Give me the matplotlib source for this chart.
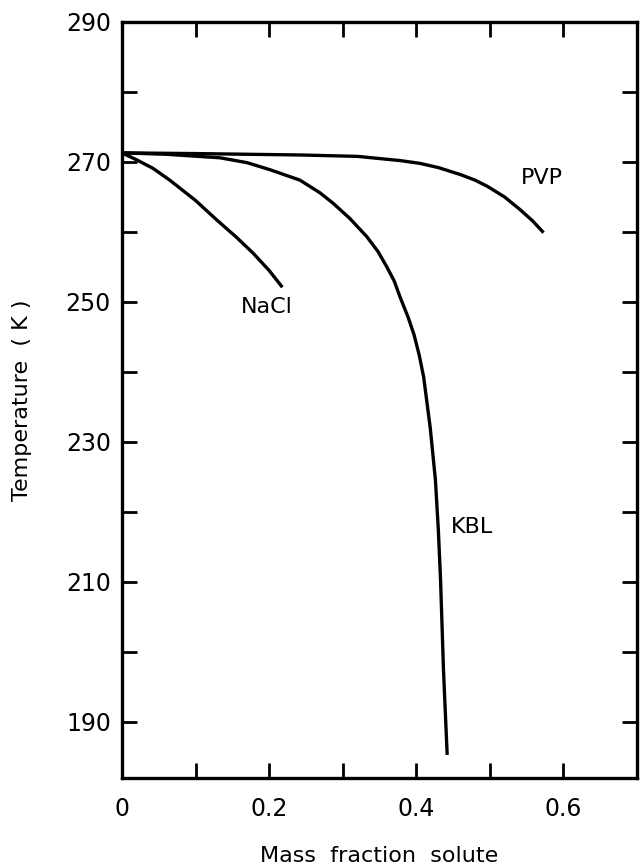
import matplotlib.pyplot as plt

# values
nacl_x = [0.0, 0.02, 0.042, 0.065, 0.10, 0.129, 0.155, 0.178, 0.200, 0.218]
nacl_t = [271.3, 270.3, 269.1, 267.4, 264.5, 261.7, 259.3, 257.0, 254.5, 252.1]

kbl_x = [0.0, 0.06, 0.133, 0.170, 0.201, 0.242, 0.269, 0.287, 0.310, 0.333,
         0.348, 0.360, 0.370, 0.378, 0.389, 0.397, 0.404, 0.410, 0.419, 0.426,
         0.430, 0.433, 0.437, 0.442]
kbl_t = [271.3, 271.1, 270.6, 269.9, 268.9, 267.4, 265.6, 264.1, 261.9, 259.3,
         257.2, 255.0, 253.0, 250.7, 247.8, 245.3, 242.4, 239.3, 232.0, 224.6,
         217.4, 210.3, 197.4, 185.3]

pvp_x = [0.0, 0.10, 0.242, 0.320, 0.378, 0.405, 0.430, 0.460, 0.480, 0.497,
         0.520, 0.541, 0.558, 0.573]
pvp_t = [271.3, 271.2, 271.0, 270.8, 270.2, 269.8, 269.2, 268.2, 267.4, 266.5,
         265.0, 263.2, 261.6, 259.9]

labels = ['NaCl', 'KBL', 'PVP']
label_pos = [(0.197, 249.3), (0.476, 217.9), (0.571, 267.7)]

fig = plt.figure(figsize=(6.4, 8.65), dpi=100)
ax = fig.add_axes([0.1906, 0.1006, 0.8047, 0.874])

for xs, ts in [(nacl_x, nacl_t), (kbl_x, kbl_t), (pvp_x, pvp_t)]:
    ax.plot(xs, ts, color='black', lw=2.4, solid_capstyle='butt',
            solid_joinstyle='round')

for name, (lx, ly) in zip(labels, label_pos):
    ax.text(lx, ly, name, fontsize=16, ha='center', va='center')

ax.set_xlim(0, 0.7)
ax.set_ylim(182, 290)

ax.set_xticks([0, 0.1, 0.2, 0.3, 0.4, 0.5, 0.6])
ax.set_xticklabels(['0', '', '0.2', '', '0.4', '', '0.6'])
ax.set_yticks(list(range(190, 291, 10)))
ax.set_yticklabels([str(v) if v % 20 == 10 else '' for v in range(190, 291, 10)])

ax.tick_params(direction='in', length=11, width=2, top=True, right=True,
               labelsize=17)
ax.tick_params(axis='x', pad=14)
ax.tick_params(axis='y', pad=8)

for s in ax.spines.values():
    s.set_linewidth(2.4)

ax.set_xlabel('Mass  fraction  solute', fontsize=16, labelpad=18)
ax.set_ylabel('Temperature  ( K )', fontsize=16, labelpad=24)

fig.savefig('out.png', dpi=100)
